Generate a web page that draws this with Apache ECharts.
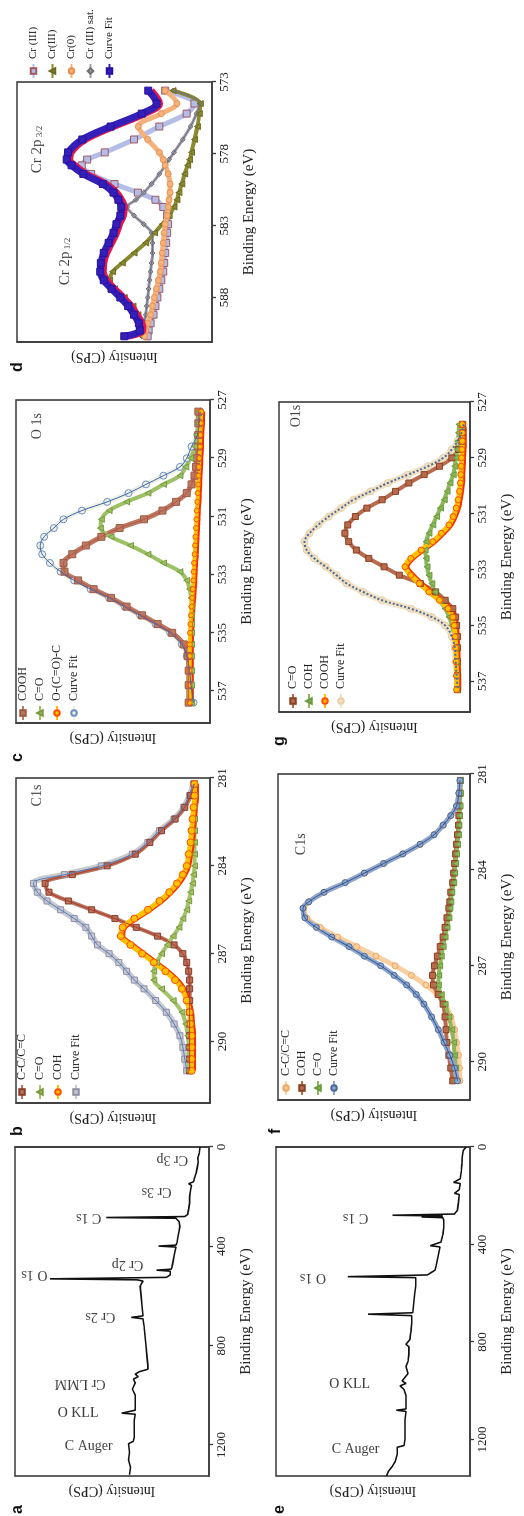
<!DOCTYPE html>
<html>
<head>
<meta charset="utf-8">
<script src="https://cdn.jsdelivr.net/npm/echarts@6/dist/echarts.min.js"></script>
<style>
html,body{margin:0;padding:0;width:524px;height:1516px;overflow:hidden;background:#fff;}
#fig{position:absolute;left:0;top:0;width:1516px;height:524px;transform-origin:0 0;transform:translateY(1516px) rotate(-90deg);}
</style>
</head>
<body>
<div id="fig"></div>
<script>
// ---- a: survey spectrum, sample 1
var aE = [0,25,45,60,80,100,125,140,148,155,175,200,225,250,272,280,284,287,290,300,320,340,360,385,395,399,403,420,440,460,480,492,496,500,515,525,531,535,540,560,600,640,680,686,692,720,760,800,840,880,895,905,915,925,935,950,975,1000,1030,1060,1068,1072,1076,1100,1140,1170,1185,1195,1230,1260,1290,1320];
var aI = [4.6,5,5.8,5.5,6,6.5,7.5,8,10.5,9,9.5,10,10,10.5,11,12.5,53,17,16,15.5,15,15.5,16,16.5,17,26,17,17.5,18,18.5,19,19.5,27,20,20,22,82,37,34,35.5,35,34.5,34,40,34,33.5,33,32.5,32,31.5,31.5,36,38,36.5,39,38,39.5,38,38,38,38,45,38,38.5,38.5,38.5,39,41.5,41,41.5,40.5,41];
var aLabels = [['C Auger',1204,62,-90],['O KLL',1072,67.5,-90],['Cr LMM',952,66.5,90],['Cr 2s',684,56,90],['O 1s',515,90,90],['Cr 2p',472,42,90],['C 1s',284,62,90],['Cr 3s',180,27,90],['Cr 3p',52,19,90]];

// ---- e: survey spectrum, sample 2
var eE = [0,15,40,70,100,130,145,150,175,190,195,230,260,275,280,283,287,290,300,330,360,390,405,410,430,450,470,490,505,515,525,532,536,540,570,600,640,680,686,692,720,760,790,810,820,850,880,900,930,960,970,980,995,1020,1050,1075,1080,1085,1120,1160,1200,1225,1232,1260,1290,1310,1330,1350];
var eI = [2,3.5,4,4.2,4.5,5,8.5,5,5.5,8,5.5,6,6.5,8,40,14,25,14,13.5,13.5,14,15,20.5,15.5,16,16.5,17,17.5,18,20,22,63,28,27.5,28,28.5,29,29.5,52.5,30,30,30.5,31,33,31.5,31.5,32,33,32,35,33,36,34,33,33,33,38,33,33.5,33.5,33.5,34,37.5,37.5,38.5,40,42,43];
var eLabels = [['C Auger',1241,59,-90],['O KLL',972,62,-90],['O 1s',538,81,90],['C 1s',290,59,90]];

// ---- b: C1s, sample 1
var bE = [281.2,281.6,282.0,282.4,282.8,283.2,283.6,284.0,284.3,284.6,284.9,285.2,285.5,285.8,286.1,286.4,286.7,287.0,287.3,287.6,287.9,288.2,288.6,289.0,289.4,289.8,290.2,290.6,291.0];
var bCC  = [8,10,13,18,25,31,38.5,53,71,85,83,73,61,49,38,27,18.5,14,12,11,10.5,10.5,10.5,10.5,10.5,10.5,10.5,10.5,10.5];
var bCO  = [8,8,8,8,8,8,8,8,8.5,9,10,11,12,14,16,19,22,25,27.5,29,29,25,19,14.5,12.5,11.5,11,11,11];
var bCOH = [8,8,8.5,9,9.5,10,11,12,14,17,21,26,32,39,45,46,41,35,29,23,18,14.5,12,10.5,10,9.5,9.5,9.5,9.5];
var bFit = [8.5,10.5,13.5,18.5,26,32,40,56,75,91,89,84,77,70,64,61,58,52,47,43,39,34,28,22.5,18.5,15.5,14,13,12];

// ---- c: O1s, sample 1
var cE = [527.4,527.8,528.2,528.6,529.0,529.3,529.6,529.9,530.2,530.5,530.8,531.1,531.4,531.7,532.0,532.3,532.6,532.9,533.2,533.5,533.8,534.1,534.4,534.7,535.0,535.4,535.8,536.3,536.8,537.4];
var cCOOH = [6,6,6,6.3,6.8,7.2,8,9.5,12,17.5,24.5,34,46.6,56,64,71,75.5,75,68,60,51,43,35,27,19.5,13.5,11.5,11,11,11];
var cCO   = [5.5,6,6.8,7.8,10,12.5,15.5,24,32,43,52,56,56.5,51,41,32,24,15.5,12,10.5,9.7,9.5,9.5,9.5,9.5,9.5,9.5,9.5,9.5,9.5];
var cOCO  = [4.5,4.7,5,5.2,5.5,5.7,5.9,6.1,6.3,6.5,6.8,7,7.2,7.5,7.7,7.9,8.2,8.4,8.6,8.9,9.2,9.5,9.8,10.1,10.3,10.4,10.4,10.5,10.5,10.5];
var cFit  = [5,5.6,6.5,9.5,12,15.5,24,33,42,53,66,75.5,80.5,85.5,87.5,86.5,82.5,77,70,61.5,52,44,36,28,20.5,14.5,12,10.5,9.8,8.5];

// ---- d: Cr 2p
var dE = [573.6,574.5,575.2,576.1,577.0,577.9,578.4,578.8,579.4,580.1,580.7,581.2,581.7,582.3,582.9,583.5,584.2,584.9,585.6,586.2,586.8,587.4,588.0,588.6,589.2,589.8,590.3,590.7];
var dCr3  = [24,9,13,27,40,55,64,66.8,62,50,38,29,25,23,22.5,23,23.5,24,24.5,25,26,27,28,29,30,31.5,32.5,33];
var dCr3b = [20,6,6.5,7.5,9,10.5,11.5,12.5,14,15.5,17,18,19.5,22,25.5,29.5,34,40,46,51,52.5,50,45,40.5,38,36,35.5,36];
var dCr0  = [24,18,26,37.8,33,27,25,24,22.5,21.5,21.5,22,22.5,23,24,24.5,25,25.5,26,26.5,27.5,28.5,29.5,30.5,31.5,33,34,34.5];
var dSat  = [20,6,8,11,15,19.5,22,24,27,31,35,39,43.5,40,35,31,30.5,30.5,31,31.5,32,32.5,33,33.5,34,35,35.5,36];
var dFit  = [32.7,28.4,36,52,66.5,73.8,74.5,72,66,56,50.5,48,46.5,47,49,50.5,53,55.5,57,57.3,55.5,51.5,47,43,40,37.5,37,45];

// ---- f: C1s, sample 2
var fE = [281.2,281.6,282.0,282.3,282.6,282.9,283.2,283.5,283.8,284.1,284.4,284.7,285.0,285.2,285.5,285.8,286.1,286.4,286.7,287.0,287.3,287.6,287.9,288.2,288.6,289.0,289.4,289.8,290.2,290.6];
var fCC  = [5.2,5.8,7,10,14,18.7,26,35,45,55,65,76,84,86.5,85,78,69,59,49,39,30.5,23,17,13,10,8,7,6,5.5,5.3];
var fCOH = [5,5.2,5.5,5.8,6,6.5,7,7.5,8,8.5,9,10,10.5,11,12,13,14,15.5,17,18.5,19.5,19,16.5,14,13,12.5,12,11,10,9];
var fCO  = [5,5,5.2,5.5,5.8,6,6.5,7,7.5,8,8.5,9.5,10,10.5,11,12,13,14,15,15.8,16.3,16.5,15,13,11,9.5,8.5,8,7.5,7.5];
var fFit = [5.2,5.8,7,10,14,18.7,26,35,45,55,65,76,84,87,86,80,72,63,55,46.5,39.5,33,28,24,20,16.5,13.5,10.5,8,6.5];

// ---- g: O1s, sample 2
var gE = [527.8,528.1,528.4,528.7,529.0,529.3,529.6,529.9,530.2,530.5,530.8,531.1,531.4,531.7,532.0,532.3,532.6,532.9,533.2,533.5,533.8,534.1,534.4,534.7,535.0,535.4,535.8,536.3,536.8,537.3];
var gCO   = [4,4,4.5,6,9.5,16,24,32,39,46,54,60,64,65.5,63.5,59.5,53,45,37,26,18,13,9,7.5,7,6.5,6.5,6.5,6.5,6.5];
var gCOH  = [5.8,6,6.3,6.8,7.4,8,8.8,10.5,12,13.5,15.5,17.5,19.5,21.5,23,23.5,23,22.5,21.5,20,18.4,16,13,11,9.5,8,7.5,7,7,7];
var gCOOH = [4,4,4,4.2,4.4,4.6,4.8,5,5.5,6.2,7.2,8.8,11,15,19.5,25.5,31,34,31,26.5,21.5,16,11.5,9,8.3,7.8,7.5,7.2,7,7];
var gFit  = [3.3,4.5,6.5,9.5,14,22,32.5,43,52,61,67.5,74,79.5,84,86.7,85.5,81.5,75.5,70,64.5,56,46,31,20,13,9.5,8,7.5,7,6.5];

var surveyTicks = [0,400,800,1200];
var c1sTicks = [281,284,287,290];
var o1sTicks = [527,529,531,533,535,537];
var cr2pTicks = [573,578,583,588];

var SERIF = 'Liberation Serif';
var chart = echarts.init(document.getElementById('fig'));

// grid boxes in the unrotated figure: [left, top, width, height]
var panels = [
  {box:[40,15,329,194],  min:0,     max:1325,  ticks:surveyTicks},
  {box:[413,16,325,194], min:281,   max:292.1, ticks:c1sTicks},
  {box:[793,16,323,194], min:527,   max:538.1, ticks:o1sTicks},
  {box:[1174,17,260,195],min:573,   max:591.1, ticks:cr2pTicks},
  {box:[40,276,329,194], min:0,     max:1350,  ticks:surveyTicks},
  {box:[416,278,326,192],min:281,   max:291.2, ticks:c1sTicks},
  {box:[804,279,310,191],min:527,   max:538.1, ticks:o1sTicks}
];

var grids = [], xAxes = [], yAxes = [];
panels.forEach(function(p, i){
  grids.push({left:p.box[0], top:p.box[1], width:p.box[2], height:p.box[3],
    show:true, borderColor:'#3a3a3a', borderWidth:1.6, backgroundColor:'#fff'});
  xAxes.push({type:'value', gridIndex:i, min:p.min, max:p.max, inverse:true,
    axisLine:{lineStyle:{color:'#3a3a3a', width:1.6}},
    axisTick:{customValues:p.ticks, length:4, lineStyle:{color:'#3a3a3a', width:1.3}},
    axisLabel:{customValues:p.ticks, fontFamily:SERIF, fontSize:13, color:'#222', margin:6,
      formatter:function(v){ return String(v); }},
    splitLine:{show:false},
    name:'Binding Energy (eV)', nameLocation:'middle', nameGap:30,
    nameTextStyle:{fontFamily:SERIF, fontSize:15, color:'#222'}});
  yAxes.push({type:'value', gridIndex:i, min:0, max:100,
    axisLine:{show:true, lineStyle:{color:'#3a3a3a', width:1.6}},
    axisTick:{show:false}, axisLabel:{show:false}, splitLine:{show:false},
    name:'Intensity (CPS)', nameLocation:'middle', nameGap:8,
    nameTextStyle:{fontFamily:SERIF, fontSize:14, color:'#222'}});
});

function pairs(xs, ys){ return xs.map(function(x, k){ return [x, ys[k]]; }); }

var series = [];
function band(name, g, xs, ys, st){
  series.push({
    name:name, type:'line', xAxisIndex:g, yAxisIndex:g, data:pairs(xs, ys),
    smooth:0.35, symbol:st.symbol, symbolSize:st.size || 6, showSymbol:true,
    lineStyle:{color:st.fill, width:st.width || 5,
      shadowColor:st.shadow || 'rgba(0,0,0,0)', shadowOffsetY:st.shadow ? (st.shadowY || 2) : 0},
    itemStyle:{color:st.fill, borderColor:st.edge, borderWidth:1},
    emphasis:{disabled:true}, silent:true, z:st.z || 3
  });
  if (st.core) {
    series.push({
      name:name + '|core', type:'line', xAxisIndex:g, yAxisIndex:g, data:pairs(xs, ys),
      smooth:0.35, symbol:'none',
      lineStyle:{color:st.core, width:st.coreWidth || 1, type:st.coreType || 'solid'},
      emphasis:{disabled:true}, silent:true, z:(st.z || 3) + 0.5
    });
  }
}
function survey(g, xs, ys){
  series.push({type:'line', xAxisIndex:g, yAxisIndex:g, data:pairs(xs, ys), symbol:'none',
    lineStyle:{color:'#111', width:1.6}, silent:true, emphasis:{disabled:true}});
}
function notes(g, list, size){
  series.push({type:'scatter', xAxisIndex:g, yAxisIndex:g, symbolSize:1, silent:true,
    itemStyle:{color:'rgba(0,0,0,0)'}, z:8,
    label:{show:true, position:'inside', fontFamily:SERIF, fontSize:size || 14, color:'#111',
      rich:{s:{fontFamily:SERIF, fontSize:9, color:'#111', padding:[6,0,0,0]}}},
    data:list.map(function(l){ return {value:[l[1], l[2]], label:{formatter:l[0], rotate:l[3]}}; })
  });
}

// a, e surveys
survey(0, aE, aI); notes(0, aLabels, 14);
survey(4, eE, eI); notes(4, eLabels, 14);

// b
band('b|Curve Fit', 1, bE, bFit, {symbol:'rect', fill:'#c8c8d0', edge:'#9090a8', size:6, width:6, core:'#4f7fbf'});
band('b|C-C/C=C', 1, bE, bCC, {symbol:'rect', fill:'#b8735c', edge:'#8a3c2a', size:6, width:4, core:'#b03a2e'});
band('b|C=O', 1, bE, bCO, {symbol:'triangle', fill:'#a5c46a', edge:'#7a9a40', size:6, width:4});
band('b|COH', 1, bE, bCOH, {symbol:'circle', fill:'#ffc000', edge:'#ff5000', size:7, width:5, shadow:'#f03000'});
notes(1, [['C1s', 281.6, 89, 0]], 14);

// c
band('c|Curve Fit', 2, cE, cFit, {symbol:'circle', fill:'#eef0e4', edge:'#6f8fc0', size:7, width:5, core:'#3a66b0'});
band('c|COOH', 2, cE, cCOOH, {symbol:'rect', fill:'#b97c63', edge:'#a05a40', size:7, width:5, core:'#c0504d'});
band('c|C=O', 2, cE, cCO, {symbol:'triangle', fill:'#9dc266', edge:'#7a9a40', size:6, width:4});
band('c|O-(C=O)-C', 2, cE, cOCO, {symbol:'circle', fill:'#ffc000', edge:'#ff5000', size:5, width:4, shadow:'#f03000'});
notes(2, [['O 1s', 527.9, 89, 0]], 14);

// d
band('d|Cr (III)', 3, dE, dCr3, {symbol:'rect', fill:'#b3bde8', edge:'#a05a60', size:7, width:5, z:3});
band('d|Cr (III) sat.', 3, dE, dSat, {symbol:'diamond', fill:'#a0a0a0', edge:'#707070', size:5, width:3, core:'#6a6a9a', z:4});
band('d|Cr(III)', 3, dE, dCr3b, {symbol:'triangle', fill:'#8a8a30', edge:'#6a6a20', size:6, width:4, z:4});
band('d|Cr(0)', 3, dE, dCr0, {symbol:'circle', fill:'#f5b27a', edge:'#e89050', size:6, width:5, z:5});
band('d|Curve Fit', 3, dE, dFit, {symbol:'rect', fill:'#3320b8', edge:'#2a12a0', size:7, width:7, shadow:'#e0184f', shadowY:3, z:6});
notes(3, [['Cr 2p{s| 3/2}', 577.7, 89.7, 0], ['Cr 2p{s| 1/2}', 585.5, 75.4, 0]], 15);

// f
band('f|C-C/C=C', 5, fE, fCC, {symbol:'circle', fill:'#f8cfa0', edge:'#f0a860', size:6, width:5});
band('f|COH', 5, fE, fCOH, {symbol:'rect', fill:'#b86a4c', edge:'#8a4020', size:6, width:4});
band('f|C=O', 5, fE, fCO, {symbol:'triangle', fill:'#8db85a', edge:'#6a9a40', size:6, width:4});
band('f|Curve Fit', 5, fE, fFit, {symbol:'circle', fill:'#8fa7cc', edge:'#4a6a9a', size:6, width:5, core:'#2f5597'});
notes(5, [['C1s', 283.2, 88, 0]], 14);

// g
band('g|Curve Fit', 6, gE, gFit, {symbol:'circle', fill:'#f3e2c4', edge:'#e8d0a8', size:7, width:6, core:'#4a6a9a', coreWidth:2, coreType:'dotted'});
band('g|C=O', 6, gE, gCO, {symbol:'rect', fill:'#b86a4c', edge:'#8a4020', size:6, width:4});
band('g|COH', 6, gE, gCOH, {symbol:'triangle', fill:'#8db85a', edge:'#6a9a40', size:6, width:4});
band('g|COOH', 6, gE, gCOOH, {symbol:'circle', fill:'#ffc000', edge:'#ff5000', size:6, width:5, shadow:'#f03000'});
notes(6, [['O1s', 527.5, 91, 0]], 14);

function legendAt(names, left, top, size, gap){
  return {data:names, orient:'vertical', left:left, top:top, padding:0,
    itemWidth:14, itemHeight:7, itemGap:gap, selectedMode:false,
    lineStyle:{width:2}, textStyle:{fontFamily:SERIF, fontSize:size || 12, color:'#222'},
    formatter:function(n){ return n.split('|')[1]; }};
}

chart.setOption({
  animation:false,
  backgroundColor:'#fff',
  grid:grids, xAxis:xAxes, yAxis:yAxes, series:series,
  legend:[
    legendAt(['b|C-C/C=C','b|C=O','b|COH','b|Curve Fit'], 416, 16, 12, 6),
    legendAt(['c|COOH','c|C=O','c|O-(C=O)-C','c|Curve Fit'], 795, 17, 12, 5),
    legendAt(['d|Cr (III)','d|Cr(III)','d|Cr(0)','d|Cr (III) sat.','d|Curve Fit'], 1437, 28, 11, 8),
    legendAt(['f|C-C/C=C','f|COH','f|C=O','f|Curve Fit'], 420, 280, 12, 4),
    legendAt(['g|C=O','g|COH','g|COOH','g|Curve Fit'], 807, 287, 12, 4)
  ],
  graphic:[
    {type:'text', left:2, top:10, style:{text:'a', font:'bold 16px "Liberation Sans"', fill:'#111'}},
    {type:'text', left:380, top:10, style:{text:'b', font:'bold 16px "Liberation Sans"', fill:'#111'}},
    {type:'text', left:754, top:10, style:{text:'c', font:'bold 16px "Liberation Sans"', fill:'#111'}},
    {type:'text', left:1144, top:10, style:{text:'d', font:'bold 16px "Liberation Sans"', fill:'#111'}},
    {type:'text', left:2, top:272, style:{text:'e', font:'bold 16px "Liberation Sans"', fill:'#111'}},
    {type:'text', left:382, top:268, style:{text:'f', font:'bold 16px "Liberation Sans"', fill:'#111'}},
    {type:'text', left:770, top:272, style:{text:'g', font:'bold 16px "Liberation Sans"', fill:'#111'}}
  ]
});
</script>
</body>
</html>
